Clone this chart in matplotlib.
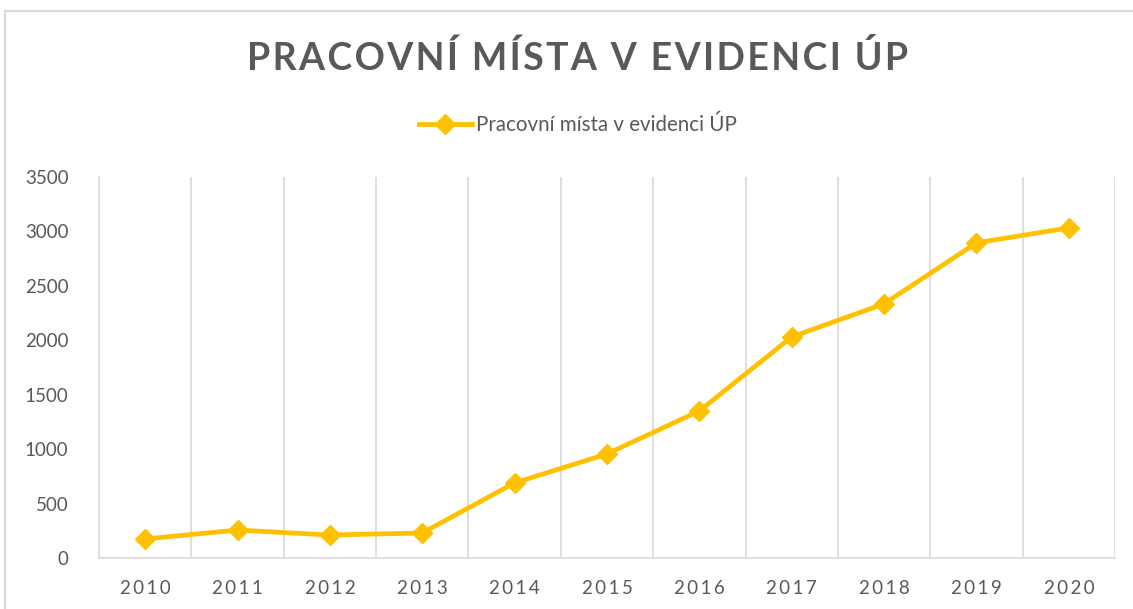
import matplotlib
matplotlib.use("Agg")
import matplotlib.pyplot as plt
from matplotlib.lines import Line2D

plt.rcParams['font.family'] = ['Lato', 'DejaVu Sans']

years = ['2010', '2011', '2012', '2013', '2014', '2015', '2016', '2017', '2018', '2019', '2020']
jobs = [175, 257, 211, 230, 690, 956, 1351, 2031, 2335, 2895, 3033]
title = 'PRACOVNÍ MÍSTA V EVIDENCI ÚP'
series_name = 'Pracovní místa v evidenci ÚP'

gold = '#FFC000'
txt = '#595959'
grid = '#D9D9D9'

def spaced(s, sep='\u200a'):
    return sep.join(s)

fig = plt.figure(figsize=(11.33, 6.09), dpi=100)
# chart frame (top and left edges visible)
fig.add_artist(Line2D([5/1133, 1], [1 - 11/609, 1 - 11/609], color=grid, lw=1.5))
fig.add_artist(Line2D([5/1133, 5/1133], [0, 1 - 11/609], color=grid, lw=1.5))

ax = fig.add_axes([99/1133, 1 - 558/609, (1115 - 99)/1133, (558 - 177)/609])
x = list(range(len(years)))
ax.plot(x, jobs, color=gold, lw=3.4, marker='D', markersize=10, label=series_name)

ax.set_xlim(-0.5, len(years) - 0.5)
ax.set_ylim(0, 3500)
ax.set_yticks(range(0, 3501, 500))
ax.set_xticks(x)
ax.set_xticklabels([spaced(y, '\u2009') for y in years])
for b in [i + 0.5 for i in x[:-1]] + [len(years) - 0.5]:
    ax.axvline(b, color=grid, lw=1.2, zorder=0)
for s in ['top', 'right']:
    ax.spines[s].set_visible(False)
for s in ['left', 'bottom']:
    ax.spines[s].set_color(grid)
    ax.spines[s].set_linewidth(1.2)
ax.tick_params(axis='both', length=0, colors=txt, labelsize=13.5)
ax.tick_params(axis='y', pad=22)
ax.tick_params(axis='x', pad=16)

fig.text(0.51, 1 - 58/609, spaced(title), ha='center', va='center',
         fontsize=27, fontweight='bold', color=txt)
fig.legend(loc='center', bbox_to_anchor=(0.51, 1 - 125/609), frameon=False,
           fontsize=14.8, labelcolor=txt, handlelength=2.6, handletextpad=0.2)

fig.savefig('out.png', dpi=100)
